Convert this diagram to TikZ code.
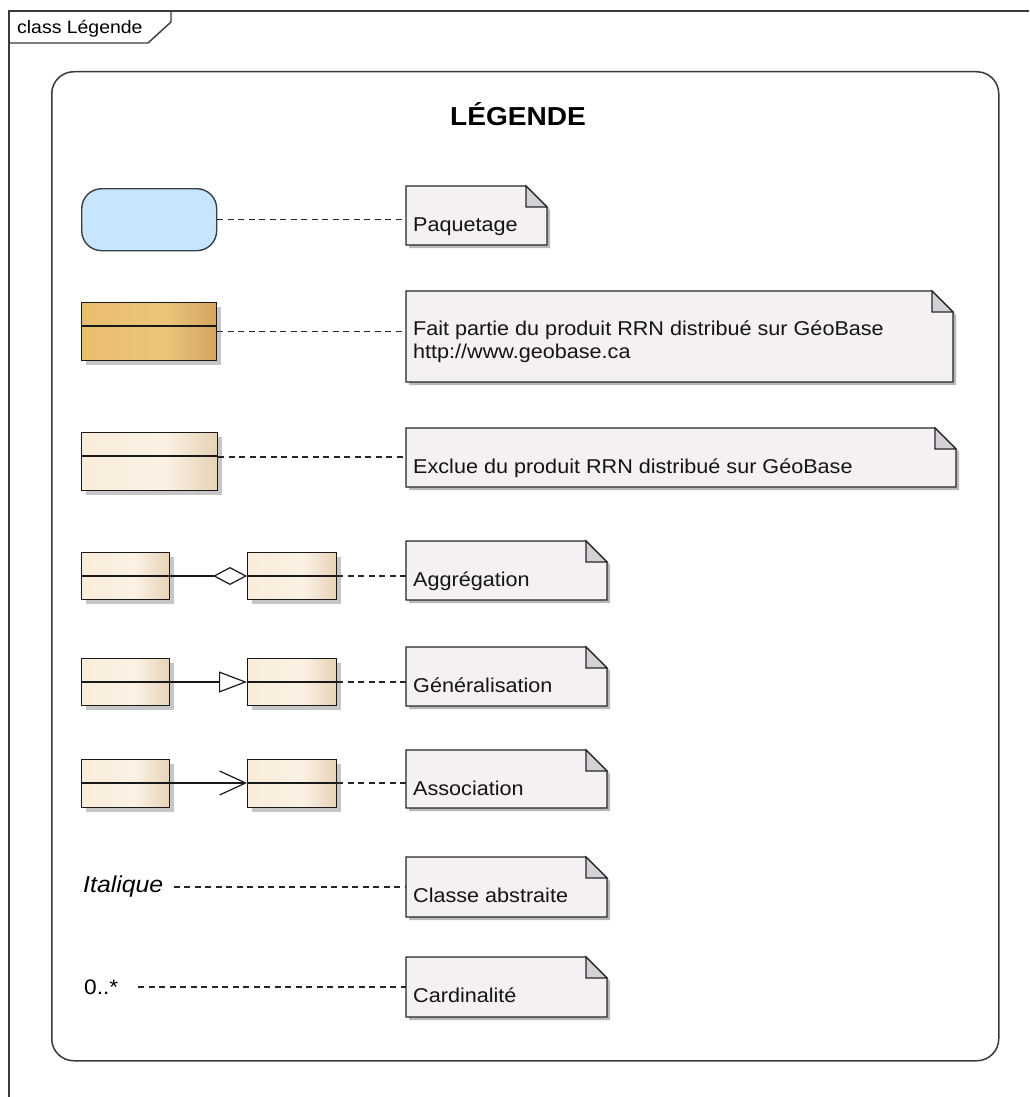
\documentclass[tikz,border=0pt]{standalone}
\usepackage{fontspec}
\setmainfont{Liberation Sans}[FakeStretch=1.08]
\usetikzlibrary{calc,arrows.meta}
\definecolor{framec}{HTML}{3A3A3A}
\definecolor{notefill}{HTML}{F4F0F4}
\definecolor{foldfill}{HTML}{D3D1D6}
\definecolor{pkgfill}{HTML}{C7E5FC}
\definecolor{pkgdraw}{HTML}{34404C}
\definecolor{orL}{HTML}{E8BD6F}
\definecolor{orM}{HTML}{ECC57B}
\definecolor{orR}{HTML}{D4A660}
\definecolor{ltL}{HTML}{F9ECD9}
\definecolor{ltM}{HTML}{FBF2E5}
\definecolor{ltR}{HTML}{E7D3B6}
\definecolor{shadowc}{HTML}{C6C6C6}
\definecolor{noteshadow}{HTML}{B8B8B8}

\pgfdeclarehorizontalshading{orshade}{100bp}{color(0bp)=(orL); color(25bp)=(orL); color(55bp)=(orM); color(75bp)=(orR); color(100bp)=(orR)}
\pgfdeclarehorizontalshading{ltshade}{100bp}{color(0bp)=(ltL); color(25bp)=(ltL); color(55bp)=(ltM); color(75bp)=(ltR); color(100bp)=(ltR)}

\newcommand\umlnote[5]{%
  \fill[noteshadow] ({#2+3},{#3+3}) -- ({#4-18},{#3+3}) -- ({#4+3},{#3+24}) -- ({#4+3},{#5+3}) -- ({#2+3},{#5+3}) -- cycle;
  \node[notearea, minimum width={#4-#2}, minimum height={#5-#3}] (#1) at (#2,#3) {};
  \filldraw[fill=notefill, draw=black!85, line width=1.2pt] (#2,#3) -- ({#4-21},#3) -- (#4,{#3+21}) -- (#4,#5) -- (#2,#5) -- cycle;
  \filldraw[fill=foldfill, draw=black!85, line width=1.1pt] ({#4-21},#3) -- ({#4-21},{#3+21}) -- (#4,{#3+21}) -- cycle;
}
\newcommand\umlclass[6]{%
  \fill[shadowc] ({#2+5},{#3+5}) rectangle ({#4+5},{#5+5});
  \node[classbox, minimum width={#4-#2}, minimum height={#5-#3}, shading=#6, shading angle=0] (#1) at (#2,#3) {};
  \draw[line width=1.2pt, black!90] ($(#1.north west)+(0,24)$) -- ($(#1.north east)+(0,24)$);
}

\begin{document}
\begin{tikzpicture}[x=1pt,y=-1pt,
  lbl/.style={inner sep=0pt, font=\fontsize{20}{23}\selectfont, anchor=base west, text=black!92},
  notearea/.style={inner sep=0pt, draw=none, anchor=north west},
  dashcon/.style={draw=black!85, dash pattern=on 6pt off 4.5pt, line width=1.35pt},
  solidcon/.style={draw=black!90, line width=1.2pt},
  classbox/.style={draw=black!90, line width=1.3pt, anchor=north west, inner sep=0pt, shade}
]
\useasboundingbox (0,0) rectangle (1029,1097);
\fill[white] (0,0) rectangle (1029,1097);

% outer frame and tab
\draw[framec, line width=1.4pt] (9,1097) -- (9,11) -- (1029,11);
\draw[framec, line width=1.4pt] (9,43) -- (148,43) -- (171,22) -- (171,11);
\node[anchor=base west, inner sep=0pt, font=\fontsize{18}{21}\selectfont] (tab) at (17,34) {class Légende};

% legend rounded box
\node[draw=framec, line width=1.5pt, rounded corners=22pt, anchor=north west, inner sep=0pt,
      minimum width=947, minimum height=989] (legend) at (51,71) {};
\node[anchor=base, inner sep=0pt, font=\bfseries\fontsize{26}{30}\selectfont] (title) at (518,125) {LÉGENDE};

% row 1: package
\node[draw=pkgdraw, fill=pkgfill, rounded corners=20pt, line width=1.4pt, anchor=north west,
      inner sep=0pt, minimum width=135, minimum height=62] (pkg) at (81,188) {};
\umlnote{n1}{406}{186}{547}{245}
\node[lbl] (t1) at (413,231) {Paquetage};
\draw[dashcon] (pkg.east) -- (pkg.east -| n1.west);

% row 2: orange class
\umlclass{o1}{81}{302}{216}{360}{orshade}
\umlnote{n2}{406}{291}{953}{382}
\node[lbl] (t2a) at (413,335) {Fait partie du produit RRN distribué sur GéoBase};
\node[lbl] (t2b) at (413,358) {http://www.geobase.ca};
\draw[dashcon] (o1.east) -- (o1.east -| n2.west);

% row 3: light class
\umlclass{l1}{81}{432}{217}{490}{ltshade}
\umlnote{n3}{406}{428}{956}{487}
\node[lbl] (t3) at (413,473) {Exclue du produit RRN distribué sur GéoBase};
\coordinate (l1r) at ($(l1.north east)+(0,25)$);
\draw[dashcon] (l1r) -- (l1r -| n3.west);

% row 4: aggregation
\umlclass{a1}{81}{552}{169}{599}{ltshade}
\umlclass{a2}{247}{552}{336}{599}{ltshade}
\umlnote{n4}{406}{541}{607}{600}
\node[lbl] (t4) at (413,586) {Aggrégation};
\draw[solidcon, -{Diamond[open, length=34pt, width=18pt, line width=1.2pt]}]
  ($(a1.north east)+(0,24)$) -- ($(a2.north west)+(0,24)$);
\coordinate (a2r) at ($(a2.north east)+(0,24)$);
\draw[dashcon] (a2r) -- (a2r -| n4.west);

% row 5: generalisation
\umlclass{g1}{81}{658}{169}{705}{ltshade}
\umlclass{g2}{247}{658}{336}{705}{ltshade}
\umlnote{n5}{406}{647}{607}{706}
\node[lbl] (t5) at (413,692) {Généralisation};
\draw[solidcon, -{Triangle[open, length=28pt, width=21pt, line width=1.2pt]}]
  ($(g1.north east)+(0,24)$) -- ($(g2.north west)+(0,24)$);
\coordinate (g2r) at ($(g2.north east)+(0,24)$);
\draw[dashcon] (g2r) -- (g2r -| n5.west);

% row 6: association
\umlclass{s1}{81}{759}{169}{807}{ltshade}
\umlclass{s2}{247}{759}{336}{807}{ltshade}
\umlnote{n6}{406}{750}{607}{808}
\node[lbl] (t6) at (413,795) {Association};
\draw[solidcon, -{Straight Barb[length=26pt, width=24pt, line width=1.2pt]}]
  ($(s1.north east)+(0,24)$) -- ($(s2.north west)+(0,24)$);
\coordinate (s2r) at ($(s2.north east)+(0,24)$);
\draw[dashcon] (s2r) -- (s2r -| n6.west);

% row 7: abstract class
\node[anchor=west, inner xsep=10pt, inner ysep=0pt, font=\itshape\fontsize{23}{26}\selectfont] (it) at (73,887) {Italique};
\umlnote{n7}{406}{857}{607}{917}
\node[lbl] (t7) at (413,902) {Classe abstraite};
\draw[dashcon] (it.east) -- (it.east -| n7.west);

% row 8: cardinality
\node[anchor=west, inner xsep=20pt, inner ysep=0pt, font=\fontsize{21}{24}\selectfont] (card) at (64,987) {0..*};
\umlnote{n8}{406}{957}{607}{1017}
\node[lbl] (t8) at (413,1002) {Cardinalité};
\draw[dashcon] (card.east) -- (card.east -| n8.west);
\end{tikzpicture}
\end{document}
